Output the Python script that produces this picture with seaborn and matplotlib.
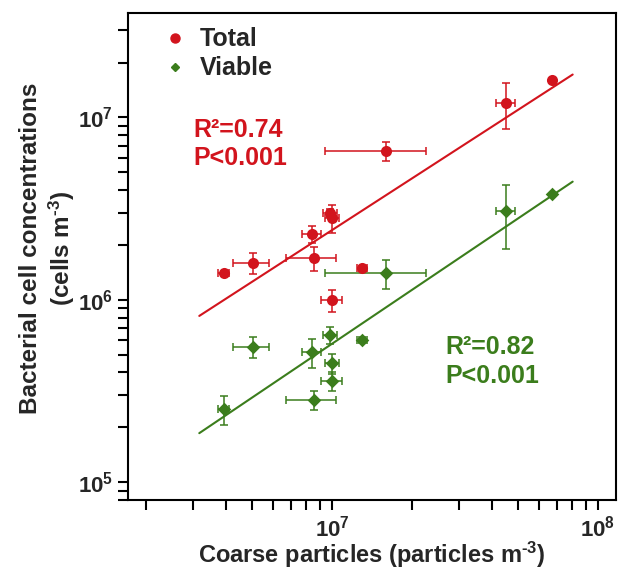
import numpy as np
import pandas as pd
import matplotlib
matplotlib.use("Agg")
import matplotlib.pyplot as plt
import seaborn as sns
from matplotlib.lines import Line2D
from matplotlib.ticker import FixedLocator, FuncFormatter, NullLocator

# ---- data ----
coarse = [6.71e7, 4.51e7, 1.60e7, 9.86e6, 1.00e7, 8.41e6, 5.03e6, 3.91e6, 8.53e6, 1.30e7, 1.00e7]
coarse_err = [0, 3.7e6, 6.6e6, 0.6e6, 0.6e6, 0.72e6, 0.78e6, 0.19e6, 1.8e6, 0.55e6, 0.93e6]
total = [1.60e7, 1.20e7, 6.58e6, 2.99e6, 2.82e6, 2.30e6, 1.60e6, 1.40e6, 1.69e6, 1.49e6, 1.00e6]
total_err = [0, 3.4e6, 0.8e6, 0.15e6, 0.5e6, 0.24e6, 0.21e6, 0, 0.25e6, 0, 0.14e6]
viable = [3.81e6, 3.09e6, 1.40e6, 6.43e5, 4.50e5, 5.16e5, 5.55e5, 2.52e5, 2.83e5, 6.04e5, 3.60e5]
viable_err = [0, 1.2e6, 0.25e6, 0.67e5, 0.57e5, 0.94e5, 0.75e5, 0.47e5, 0.33e5, 0.2e5, 0.45e5]
fit_x = [3.17e6, 8.04e7]
total_fit = [8.17e5, 1.72e7]
viable_fit = [1.86e5, 4.45e6]
series = ["Total", "Viable"]
stats_total = ["R\u00b2=0.74", "P<0.001"]
stats_viable = ["R\u00b2=0.82", "P<0.001"]
x_decades = [6, 7, 8]
y_decades = [4, 5, 6, 7]

RED = "#d2141d"
GREEN = "#3b7d1c"

sns.set_style("ticks")
plt.rcParams["font.family"] = ["Liberation Sans", "DejaVu Sans"]
plt.rcParams["font.weight"] = "bold"
plt.rcParams["mathtext.fontset"] = "custom"
plt.rcParams["mathtext.rm"] = "Liberation Sans:bold"
plt.rcParams["mathtext.bf"] = "Liberation Sans:bold"
plt.rcParams["mathtext.default"] = "bf"

df = pd.DataFrame({
    "x": coarse + coarse,
    "y": total + viable,
    "kind": [series[0]] * len(total) + [series[1]] * len(viable),
})
fit_df = pd.DataFrame({
    "x": fit_x + fit_x,
    "y": total_fit + viable_fit,
    "kind": [series[0]] * 2 + [series[1]] * 2,
})
palette = {series[0]: RED, series[1]: GREEN}

fig = plt.figure(figsize=(6.22, 5.70), dpi=100)
ax = fig.add_axes([128 / 622, 1 - 500 / 570, 488 / 622, 487 / 570])
ax.set_xscale("log")
ax.set_yscale("log")

sns.lineplot(data=fit_df, x="x", y="y", hue="kind", palette=palette,
             linewidth=1.5, legend=False, ax=ax, zorder=2)

ax.errorbar(coarse, total, xerr=coarse_err, yerr=total_err, fmt="none",
            ecolor=RED, elinewidth=1.1, capsize=3, capthick=1.1, zorder=3)
ax.errorbar(coarse, viable, xerr=coarse_err, yerr=viable_err, fmt="none",
            ecolor=GREEN, elinewidth=1.1, capsize=3, capthick=1.1, zorder=3)

sns.scatterplot(data=df[df.kind == series[0]], x="x", y="y", color=RED,
                marker="o", s=64, linewidth=0, legend=False, ax=ax, zorder=4)
sns.scatterplot(data=df[df.kind == series[1]], x="x", y="y", color=GREEN,
                marker="D", s=48, linewidth=0, legend=False, ax=ax, zorder=4)


def decade_label(v, pos):
    e = np.log10(v)
    if abs(e - round(e)) < 1e-6:
        return r"$\mathbf{10^{%d}}$" % round(e)
    return ""


fmt = FuncFormatter(decade_label)
for axis, decs in ((ax.xaxis, x_decades), (ax.yaxis, y_decades)):
    locs = [m * 10.0 ** d for d in decs for m in range(1, 10)]
    axis.set_major_locator(FixedLocator(locs))
    axis.set_minor_locator(NullLocator())
    axis.set_major_formatter(fmt)
ax.tick_params(which="major", direction="out", length=7, width=1.5, color="black",
               top=False, right=False, labelsize=16, pad=4)
ax.set_xlim(1.71e6, 1.17e8)
ax.set_ylim(8.0e4, 3.74e7)
for sp in ax.spines.values():
    sp.set_linewidth(1.5)
    sp.set_color("black")

ax.set_xlabel(r"Coarse particles (particles m$^{\text{-3}}$)", fontsize=17,
              fontweight="bold", va="center")
ax.xaxis.set_label_coords(0.5, -0.112)
ax.set_ylabel("Bacterial cell concentrations\n" + r"(cells m$^{\text{-3}}$)",
              fontsize=17.5, fontweight="bold", linespacing=1.2, va="center")
ax.yaxis.set_label_coords(-0.164, 0.517)

handles = [
    Line2D([], [], marker="o", color=RED, linestyle="none", markersize=6.5),
    Line2D([], [], marker="D", color=GREEN, linestyle="none", markersize=4.5),
]
ax.legend(handles, series, loc="upper left", bbox_to_anchor=(0.050, 0.991),
          frameon=False, prop={"size": 18, "weight": "bold"},
          handletextpad=0.5, labelspacing=0.2, handlelength=1.0,
          borderaxespad=0.0)

ax.text(0.133, 0.731, "\n".join(stats_total), transform=ax.transAxes,
        color=RED, fontsize=18, fontweight="bold", va="center", ha="left",
        linespacing=1.25)
ax.text(0.650, 0.285, "\n".join(stats_viable), transform=ax.transAxes,
        color=GREEN, fontsize=18, fontweight="bold", va="center", ha="left",
        linespacing=1.25)

fig.savefig("out.png", dpi=100)
